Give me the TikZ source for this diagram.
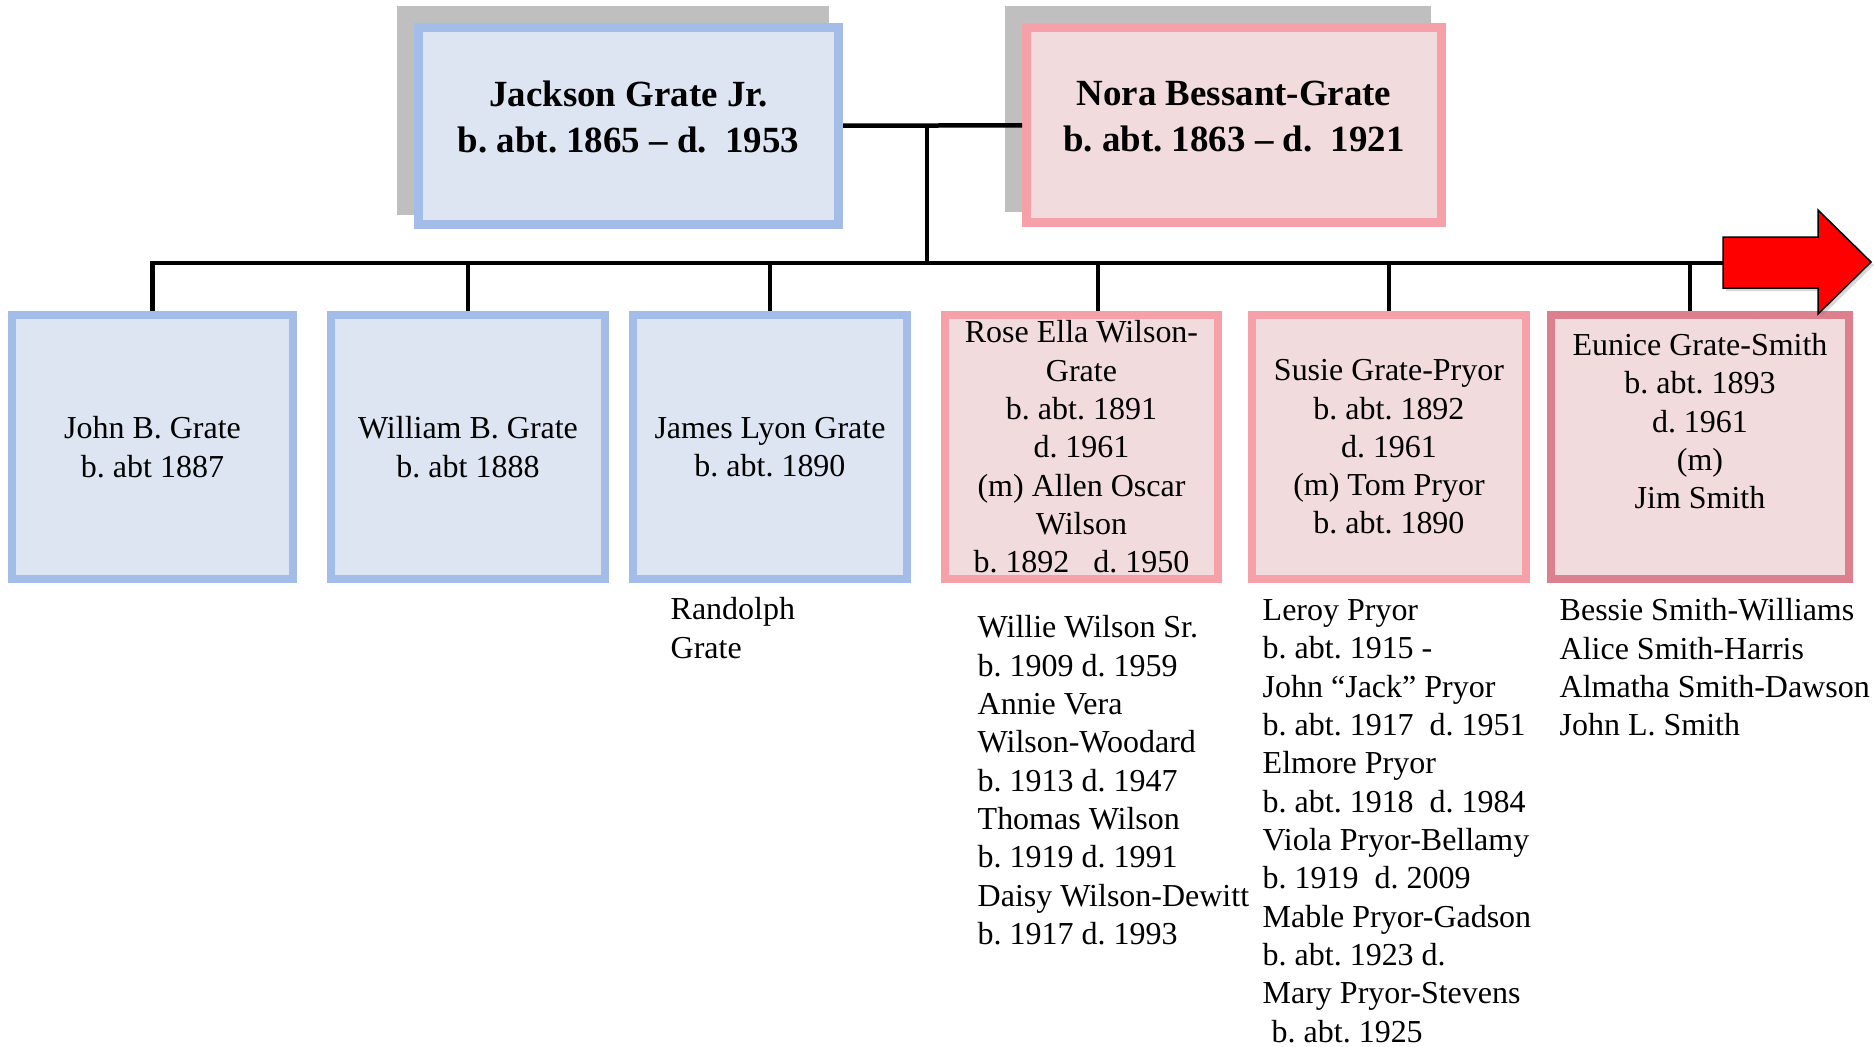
\documentclass[tikz,border=0pt]{standalone}
\usepackage{fontspec}
\setmainfont{Liberation Serif}
\usepackage{tikz}
\usetikzlibrary{
  positioning,
  backgrounds,
  shadows
}
\frenchspacing
\definecolor{boyfill}{HTML}{DCE5F1}
\definecolor{boyline}{HTML}{A3BDE8}
\definecolor{girlfill}{HTML}{F1DBDC}
\definecolor{girlline}{HTML}{F6A0A9}
\definecolor{eunline}{HTML}{DD808D}
\definecolor{shadowgray}{HTML}{BFBFBF}
\definecolor{arrowred}{HTML}{FF0000}
\newcommand{\kidfont}{\fontsize{9.1pt}{10.9pt}\selectfont\frenchspacing}
\newcommand{\parentfont}{\fontsize{10.5pt}{13.1pt}\selectfont\bfseries\frenchspacing}
\tikzset{
  x=0.1mm, y=-0.1mm,
  node distance=3mm,
  box/.style={draw, line width=0.8mm, align=center, inner sep=0pt, font=\kidfont},
  sonbox/.style={box, draw=boyline, fill=boyfill, minimum width=27.4mm, minimum height=26.4mm},
  daughterbox/.style={box, draw=girlline, fill=girlfill, minimum width=27.4mm, minimum height=26.4mm},
  fatherbox/.style={box, line width=0.9mm, draw=boyline, fill=boyfill, font=\parentfont, text depth=1.8mm},
  motherbox/.style={box, line width=0.9mm, draw=girlline, fill=girlfill, font=\parentfont, text depth=1.8mm},
  kids/.style={anchor=north west, align=left, inner sep=0pt, font=\kidfont},
  link/.style={line width=0.45mm},
  bigarrow/.style={fill=arrowred, draw=black, line width=0.15mm,
    drop shadow={shadow xshift=0.3mm, shadow yshift=-0.3mm, opacity=0.3}}
}

\begin{document}
\begin{tikzpicture}
    \useasboundingbox (0,0) rectangle (1874,1046);

    \node[fatherbox, minimum width=42mm, minimum height=19.7mm] (jackson) at (628.5,126) {Jackson Grate Jr.\\b. abt. 1865 – d.\ \ 1953};
    \node[motherbox, minimum width=41.5mm, minimum height=19.5mm] (nora) at (1234,125) {Nora Bessant-Grate\\b. abt. 1863 – d.\ \ 1921};

    \node[sonbox, minimum width=28.1mm] (john) at (152.5,447) {John B. Grate\\b. abt 1887};
    \node[sonbox, right=3mm of john] (william) {William B. Grate\\b. abt 1888};
    \node[sonbox, right=2mm of william] (james) {James Lyon Grate\\b. abt. 1890};
    \node[daughterbox, minimum width=27.3mm, right=3mm of james] (rose) {Rose Ella Wilson-\\Grate\\b. abt. 1891\\d. 1961\\(m) Allen Oscar\\Wilson\\b. 1892\ \ \ d. 1950};
    \node[daughterbox, right=2.6mm of rose] (susie) {Susie Grate-Pryor\\b. abt. 1892\\d. 1961\\(m) Tom Pryor\\b. abt. 1890};
    \node[daughterbox, draw=eunline, minimum width=29.8mm, text depth=5.2mm, right=1.7mm of susie] (eunice) {Eunice Grate-Smith\\b. abt. 1893\\d. 1961\\(m)\\Jim Smith};

    \node[kids] (randolph) at (670,597) {Randolph\\Grate};
    \node[kids] (wilsons) at (977,615) {Willie Wilson Sr.\\b. 1909 d. 1959\\Annie Vera\\Wilson-Woodard\\b. 1913 d. 1947\\Thomas Wilson\\b. 1919 d. 1991\\Daisy Wilson-Dewitt\\b. 1917 d. 1993};
    \node[kids] (pryors) at (1262,599) {Leroy Pryor\\b. abt. 1915 -\\John “Jack” Pryor\\b. abt. 1917\ \ d. 1951\\Elmore Pryor\\b. abt. 1918\ \ d. 1984\\Viola Pryor-Bellamy\\b. 1919\ \ d. 2009\\Mable Pryor-Gadson\\b. abt. 1923 d.\\Mary Pryor-Stevens\\\hspace*{0.9mm}b. abt. 1925};
    \node[kids] (smiths) at (1559,598) {Bessie Smith-Williams\\Alice Smith-Harris\\Almatha Smith-Dawson\\John L. Smith};

    \coordinate (bus) at (927,263);
    \coordinate (arrowtail) at (1723,263);

    \draw[link] (jackson) -- (nora);
    \draw[link] (jackson.east -| bus) -- (bus);
    \draw[link] (john.north) |- (arrowtail);
    \draw[link] (william.north) -- (william.north |- bus);
    \draw[link] (james.north) -- (james.north |- bus);
    \draw[link] ([xshift=1.65mm]rose.north) -- ([xshift=1.65mm]rose.north |- bus);
    \draw[link] (susie.north) -- (susie.north |- bus);
    \draw[link] ([xshift=-1mm]eunice.north) -- ([xshift=-1mm]eunice.north |- bus);

    \draw[bigarrow] (arrowtail) ++(0,-26) -- ++(95,0) -- ++(0,-27) -- (1871,262) -- (1818,314) -- ++(0,-26) -- ++(-95,0) -- cycle;

    \begin{scope}[on background layer]
      \fill[white] (0,0) rectangle (1874,1046);
      \fill[shadowgray] ([shift={(-17,-17)}]jackson.north west) rectangle ([shift={(-14,-14)}]jackson.south east);
      \fill[shadowgray] ([shift={(-17,-17)}]nora.north west) rectangle ([shift={(-15,-15)}]nora.south east);
    \end{scope}
\end{tikzpicture}
\end{document}
